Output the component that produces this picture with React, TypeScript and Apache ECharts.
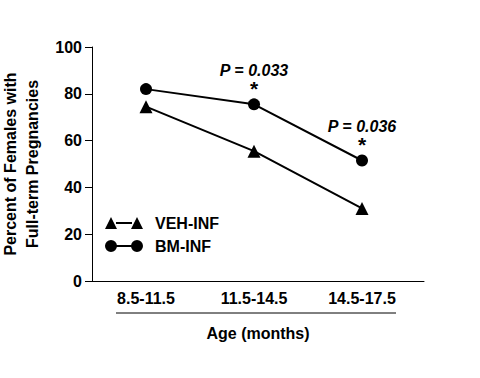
import React, { useEffect, useRef } from "react";
import * as echarts from "echarts";

const categories = ["8.5-11.5", "11.5-14.5", "14.5-17.5"];
const vehInf = [74.5, 55.5, 31];
const bmInf = [82, 75.5, 51.5];
const pValues = ["", "P = 0.033", "P = 0.036"];
const yTicks = { min: 0, max: 100, interval: 20 };

const FONT = "Liberation Sans, Arial, sans-serif";

const triIcon =
  "path://M0,12 L6,0 L12,12 Z M11,5 L27,5 L27,7 L11,7 Z M26,12 L32,0 L38,12 Z";
const circIcon =
  "path://M0,6 A6,6 0 1,1 12,6 A6,6 0 1,1 0,6 Z M11,5 L27,5 L27,7 L11,7 Z M26,6 A6,6 0 1,1 38,6 A6,6 0 1,1 26,6 Z";

export default function App() {
  const ref = useRef<HTMLDivElement>(null);
  useEffect(() => {
    if (!ref.current) return;
    const chart = echarts.init(ref.current, null, { renderer: "svg" });
    const bmData = bmInf.map((v, i) => {
      const item: any = { value: [i, v] };
      if (pValues[i]) {
        item.label = {
          show: true,
          position: "top",
          distance: 1,
          formatter: "{p|" + pValues[i] + "}\n{s|*}",
          rich: {
            p: {
              fontFamily: FONT,
              fontSize: 16,
              fontWeight: "bold",
              fontStyle: "italic",
              color: "#000",
              lineHeight: 18,
              align: "center",
            },
            s: {
              fontFamily: FONT,
              fontSize: 21,
              fontWeight: "bold",
              color: "#000",
              lineHeight: 18,
              align: "center",
            },
          },
        };
      }
      return item;
    });
    chart.setOption({
      animation: false,
      backgroundColor: "#fff",
      grid: { left: 92, right: 56, top: 47, bottom: 97, outerBoundsMode: "none", containLabel: false },
      legend: {
        left: 105,
        top: 215,
        padding: 0,
        orient: "vertical",
        itemWidth: 38,
        itemHeight: 12,
        itemGap: 7,
        textStyle: {
          fontFamily: FONT,
          fontSize: 16,
          fontWeight: "bold",
          color: "#000",
          padding: [0, 0, 0, 7],
        },
        data: [
          { name: "VEH-INF", icon: triIcon },
          { name: "BM-INF", icon: circIcon },
        ],
      },
      xAxis: {
        type: "value",
        min: -0.5,
        max: 2.574,
        splitLine: { show: false },
        axisLine: { show: true, lineStyle: { color: "#000", width: 1 } },
        axisTick: { show: false },
        axisLabel: {
          customValues: [0, 1, 2],
          formatter: (v: number) => categories[Math.round(v)] ?? "",
          fontFamily: FONT,
          fontSize: 16,
          fontWeight: "bold",
          color: "#000",
          margin: 9,
        },
        name: "Age (months)",
        nameLocation: "middle",
        nameGap: 44,
        nameTextStyle: { fontFamily: FONT, fontSize: 16, fontWeight: "bold", color: "#000" },
      },
      yAxis: {
        type: "value",
        min: yTicks.min,
        max: yTicks.max,
        interval: yTicks.interval,
        splitLine: { show: false },
        axisLine: { show: true, onZero: false, lineStyle: { color: "#000", width: 1 } },
        axisTick: { show: true, length: 7, lineStyle: { color: "#000" } },
        axisLabel: {
          fontFamily: FONT,
          fontSize: 16,
          fontWeight: "bold",
          color: "#000",
          margin: 10,
        },
        name: "Percent of Females with\nFull-term Pregnancies",
        nameLocation: "middle",
        nameGap: 49,
        nameTextStyle: {
          fontFamily: FONT,
          fontSize: 16,
          fontWeight: "bold",
          color: "#000",
          lineHeight: 22,
        },
      },
      graphic: [
        {
          type: "line",
          shape: { x1: 116, y1: 313, x2: 396, y2: 313 },
          style: { stroke: "#000", lineWidth: 1 },
        },
      ],
      series: [
        {
          name: "VEH-INF",
          type: "line",
          data: vehInf.map((v, i) => [i, v]),
          symbol: "triangle",
          symbolSize: 13,
          itemStyle: { color: "#000" },
          lineStyle: { color: "#000", width: 2 },
        },
        {
          name: "BM-INF",
          type: "line",
          data: bmData,
          symbol: "circle",
          symbolSize: 12,
          itemStyle: { color: "#000" },
          lineStyle: { color: "#000", width: 2 },
        },
      ],
    });
    return () => chart.dispose();
  }, []);
  return (
    <div
      ref={ref}
      style={{ position: "absolute", left: 0, top: 0, width: 480, height: 378 }}
    />
  );
}
